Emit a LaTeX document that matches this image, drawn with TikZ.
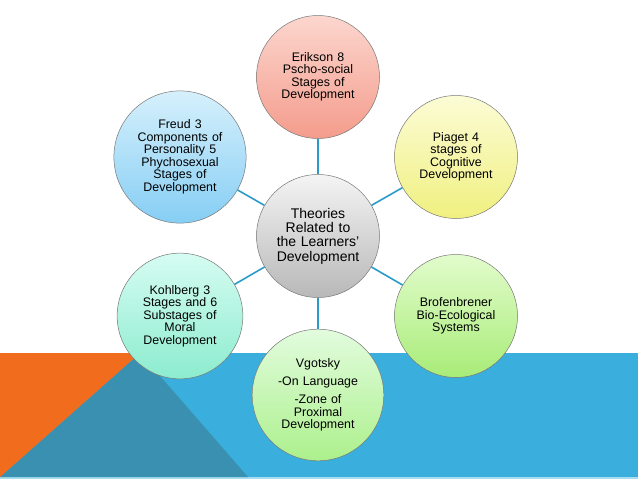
\documentclass[tikz,border=0pt]{standalone}
\usepackage{fontspec}
\setmainfont{Liberation Sans}
\usepackage{tikz}
\usetikzlibrary{positioning,calc}
\definecolor{thBlue}{RGB}{58,174,220}
\definecolor{thTeal}{RGB}{58,144,176}
\definecolor{thOrange}{RGB}{242,108,30}
\definecolor{thStrip}{RGB}{168,220,240}
\definecolor{thLine}{RGB}{42,155,201}
\definecolor{thEdge}{RGB}{120,120,120}
\definecolor{thSalmonA}{RGB}{252,214,206}
\definecolor{thSalmonB}{RGB}{244,156,140}
\definecolor{thYellowA}{RGB}{252,252,214}
\definecolor{thYellowB}{RGB}{240,240,128}
\definecolor{thGreenA}{RGB}{226,252,204}
\definecolor{thGreenB}{RGB}{168,236,120}
\definecolor{thLimeA}{RGB}{226,252,222}
\definecolor{thLimeB}{RGB}{172,240,140}
\definecolor{thMintA}{RGB}{214,252,242}
\definecolor{thMintB}{RGB}{140,236,206}
\definecolor{thSkyA}{RGB}{214,240,252}
\definecolor{thSkyB}{RGB}{134,206,244}
\definecolor{thGrayA}{RGB}{244,244,244}
\definecolor{thGrayB}{RGB}{184,184,184}

\tikzset{
  bubble/.style={circle, draw=thEdge, line width=0.5pt, minimum size=123pt,
    inner sep=0pt, align=center, text width=110pt,
    font=\fontsize{12.4}{12.5}\selectfont},
  hub/.style={bubble, top color=thGrayA, bottom color=thGrayB,
    font=\fontsize{14}{14.3}\selectfont},
  spoke/.style={thLine, line width=1.6pt}
}

\begin{document}
\begin{tikzpicture}[x=1pt, y=-1pt]
  \useasboundingbox (0,0) rectangle (638,479);

  % Background band
  \fill[thBlue] (0,353) rectangle (638,477);
  \fill[thStrip] (0,477) rectangle (638,479);
  \fill[thTeal] (140,353) -- (248,477) -- (0,477) -- cycle;
  \fill[thOrange] (0,353) -- (140,353) -- (0,477) -- cycle;

  % Theory circles
  \node[hub] (ctr) at (318,236) {Theories\\Related to\\the Learners'\\Development};
  \node[bubble, top color=thSalmonA, bottom color=thSalmonB] (eri) at (318,77)
    {Erikson 8\\Pscho-social\\Stages of\\Development};
  \node[bubble, top color=thYellowA, bottom color=thYellowB] (pia) at (456,157)
    {Piaget 4\\stages of\\Cognitive\\Development};
  \node[bubble, top color=thGreenA, bottom color=thGreenB] (bro) at (456,316)
    {Brofenbrener\\Bio-Ecological\\Systems};
  \node[bubble, top color=thLimeA, bottom color=thLimeB] (vgo) at (318,395)
    {Vgotsky\\[5.5pt]-On Language\\[5.5pt]-Zone of\\Proximal\\Development};
  \node[bubble, top color=thMintA, bottom color=thMintB] (koh) at (180,316)
    {Kohlberg 3\\Stages and 6\\Substages of\\Moral\\Development};
  \node[bubble, top color=thSkyA, bottom color=thSkyB] (fre) at (180,157)
    {Freud 3\\Components of\\Personality 5\\Phychosexual\\Stages of\\Development};

  % Spokes
  \draw[spoke] (ctr) -- (eri);
  \draw[spoke] (ctr) -- (pia);
  \draw[spoke] (ctr) -- (bro);
  \draw[spoke] (ctr) -- (vgo);
  \draw[spoke] (ctr) -- (koh);
  \draw[spoke] (ctr) -- (fre);
\end{tikzpicture}
\end{document}
